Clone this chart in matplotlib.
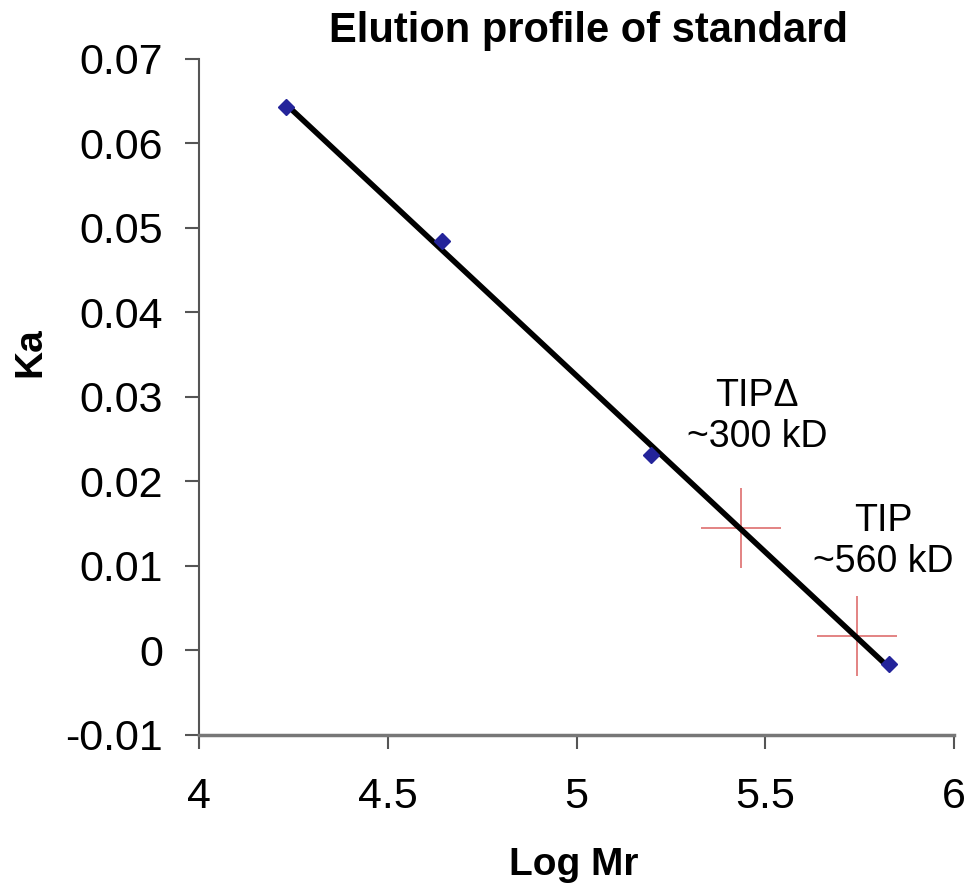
import numpy as np
import matplotlib as mpl
mpl.use('Agg')
import matplotlib.pyplot as plt

# Standards (log Mr, Ka)
log_mr = [4.23, 4.644, 5.197, 5.828]
ka = [0.0643, 0.0485, 0.0231, -0.0016]

# Unknown samples
tip_log_mr = [5.436, 5.743]
tip_ka = [0.0145, 0.0017]
tip_labels = ["TIP\u0394\n~300 kD", "TIP\n~560 kD"]

plt.rcParams['font.family'] = ['Liberation Sans', 'DejaVu Sans']

fig = plt.figure(figsize=(9.73, 8.88), dpi=100)
ax = fig.add_axes([0.2045, 0.1723, 0.776, 0.7613])

# regression line through the standards
pente, origine = np.polyfit(log_mr, ka, 1)
xs = np.array([min(log_mr), max(log_mr)])
ax.plot(xs, pente * xs + origine, color='black', linewidth=4, zorder=2)

ax.plot(log_mr, ka, linestyle='', marker='D', markersize=8,
        color='#24249a', zorder=3)
ax.plot(tip_log_mr, tip_ka, linestyle='', marker='+', markersize=58,
        markeredgewidth=1.3, color='#e07a7a', zorder=1)

# labels for the unknowns
ax.text(5.478, 0.0277, tip_labels[0], ha='center', va='center',
        fontsize=27, linespacing=1.15)
ax.text(5.812, 0.0129, tip_labels[1], ha='center', va='center',
        fontsize=27, linespacing=1.15)

ax.set_xlim(4, 6)
ax.set_ylim(-0.01, 0.07)
ax.set_xticks([4, 4.5, 5, 5.5, 6])
ax.set_xticklabels(['4', '4.5', '5', '5.5', '6'])
ax.set_yticks(np.arange(-0.01, 0.0701, 0.01))
ax.set_yticklabels(['-0.01', '0', '0.01', '0.02', '0.03', '0.04',
                    '0.05', '0.06', '0.07'])
ax.tick_params(labelsize=31, length=10, width=1.5, color='#555555', pad=16)
ax.tick_params(axis='x', pad=20)

for cote in ['top', 'right']:
    ax.spines[cote].set_visible(False)
ax.spines['left'].set_color('#555555')
ax.spines['left'].set_linewidth(1.5)
ax.spines['bottom'].set_color('#777777')
ax.spines['bottom'].set_linewidth(2.5)

fig.text(0.605, 0.965, 'Elution profile of standard', ha='center',
         va='center', fontsize=30, fontweight='bold')
fig.text(0.59, 0.026, 'Log Mr', ha='center', va='center',
         fontsize=28, fontweight='bold')
fig.text(0.031, 0.603, 'Ka', ha='center', va='center', rotation=90,
         fontsize=28, fontweight='bold')

fig.savefig('out.png', dpi=100)
